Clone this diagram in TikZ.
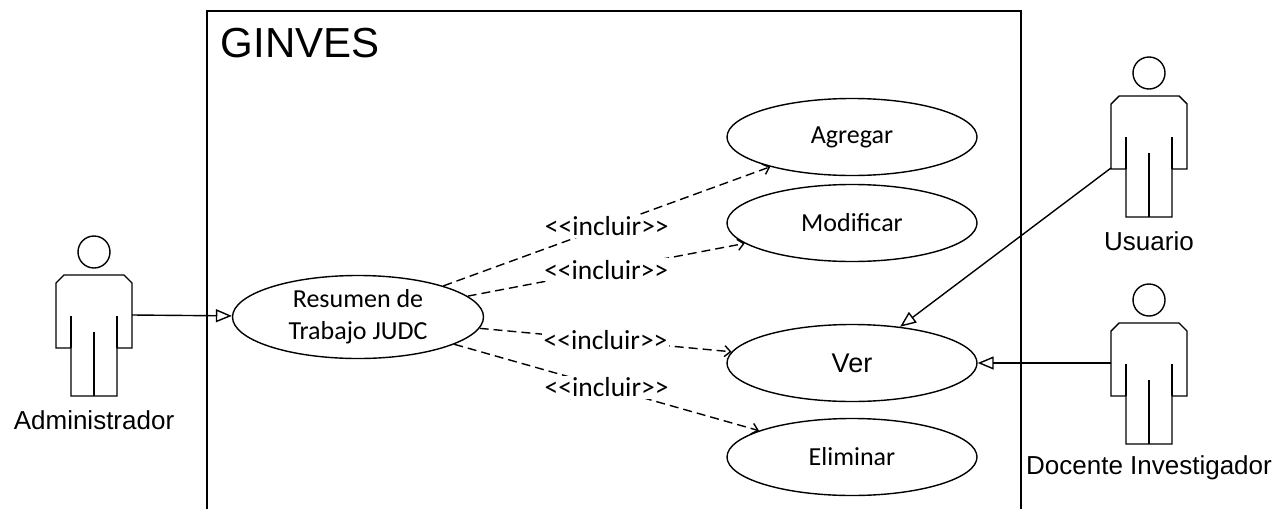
\documentclass[tikz,border=0pt]{standalone}
\usepackage{fontspec}
\setmainfont{Liberation Sans}
\newfontfamily\calfont{Carlito}
\usetikzlibrary{shapes.geometric,arrows.meta}
\tikzset{
  pics/actor/.style={code={
    \draw (-30,0) -- (30,0) -- (38,8) -- (38,73) -- (23,73) -- (23,121)
      -- (-23,121) -- (-23,73) -- (-38,73) -- (-38,8) -- cycle;
    \draw (-23,41) -- (-23,73) (23,41) -- (23,73) (0,57) -- (0,121);
    \draw (0,-23) circle (16pt);
    \node[font=\fontsize{26}{30}\selectfont] (-name) at (0,145) {#1};
    \coordinate (-left) at (-38,40);
    \coordinate (-right) at (38,40);
    \coordinate (-hand) at (-38,72);
  }}
}
\begin{document}
\begin{tikzpicture}[x=1pt,y=-1pt,line width=1.4pt]
  \tikzstyle{usecase}=[ellipse,draw,inner sep=0pt,minimum width=250pt,minimum height=77pt,align=center,font=\calfont\fontsize{26}{32}\selectfont]
  \tikzstyle{gen}=[-{Triangle[open,length=16pt,width=13pt]}]
  \tikzstyle{incl}=[dash pattern=on 9pt off 5pt,-{Straight Barb[length=6pt,width=11pt]}]
  \tikzstyle{incltext}=[fill=white,inner sep=2pt,font=\calfont\fontsize{27.5}{30}\selectfont]
  \useasboundingbox (0,0) rectangle (1288,509);
  % sistema
  \draw (207,509) -- (207,11) -- (1021,11) -- (1021,509);
  \node[anchor=base west,inner sep=0pt,font=\fontsize{42}{48}\selectfont] (t_ginves) at (220,57) {GINVES};
  % casos de uso
  \node[usecase,minimum width=251pt,minimum height=83pt] (uc_res) at (358,317) {Resumen de\\Trabajo JUDC};
  \node[usecase] (uc_agr) at (852,137) {Agregar};
  \node[usecase] (uc_mod) at (852,223) {Modificar};
  \node[usecase,font=\fontsize{27}{32}\selectfont] (uc_ver) at (852,363) {Ver};
  \node[usecase] (uc_eli) at (852,457) {Eliminar};
  % actores
  \pic (a_adm) at (94,275) {actor=Administrador};
  \pic (a_usr) at (1149,96) {actor=Usuario};
  \pic (a_doc) at (1149,323) {actor=Docente Investigador};
  \draw[gen] (a_adm-right) -- (uc_res);
  \draw[gen] (a_usr-hand) -- (uc_ver);
  \draw[gen] (a_doc-left) -- (uc_ver);
  % incluir
  \draw[incl] (uc_res) -- node[incltext] (i_agr) {<\kern0pt<incluir>\kern0pt>} (uc_agr);
  \draw[incl] (uc_res) -- node[incltext] (i_mod) {<\kern0pt<incluir>\kern0pt>} (uc_mod);
  \draw[incl] (uc_res) -- node[incltext] (i_ver) {<\kern0pt<incluir>\kern0pt>} (uc_ver);
  \draw[incl] (uc_res) -- node[incltext] (i_eli) {<\kern0pt<incluir>\kern0pt>} (uc_eli);
\end{tikzpicture}
\end{document}
